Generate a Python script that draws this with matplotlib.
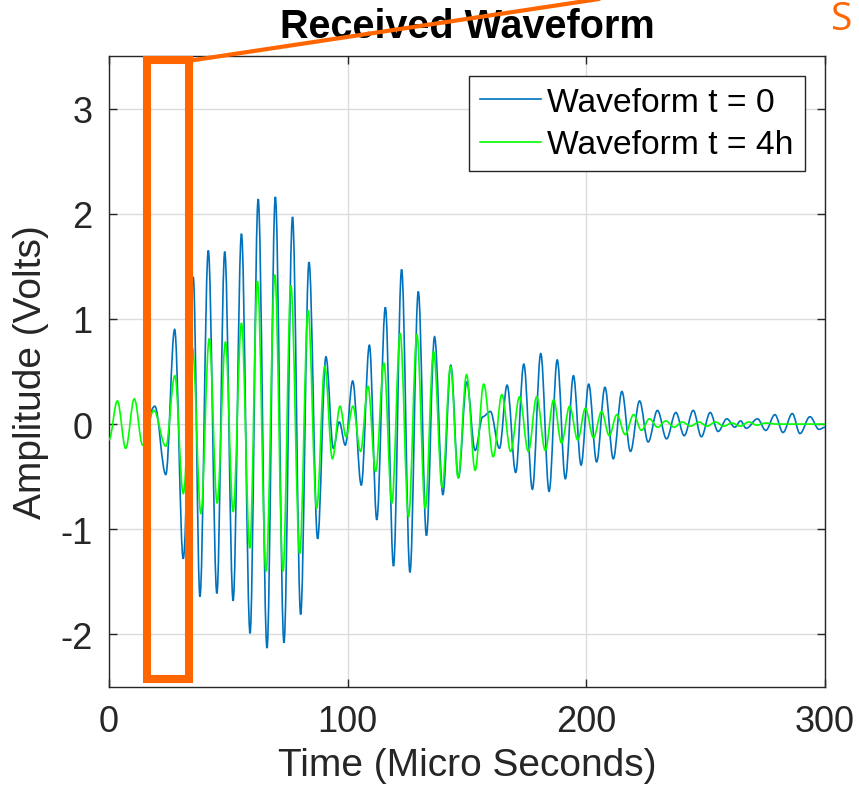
import matplotlib
matplotlib.use("Agg")
import matplotlib.pyplot as plt
from matplotlib.patches import Rectangle, ConnectionPatch, PathPatch
from matplotlib.path import Path
from matplotlib.lines import Line2D

plt.rcParams['font.family'] = ['Liberation Sans', 'DejaVu Sans']
plt.rcParams['axes.unicode_minus'] = False

# ---- data (extrema of each oscillation) ----
blue_t = [15, 19.2, 23.8, 27.5, 31.1, 35.3, 38.1, 41.6, 45.2, 48.5, 52.0, 55.5, 59.1, 62.5,
          66.2, 69.7, 73.3, 76.9, 80.3, 83.8, 87.4, 90.9, 94.0, 96.5, 99.0, 102.1, 105.7,
          109.1, 112.2, 115.8, 119.2, 122.6, 126.1, 129.6, 133.0, 136.4, 139.9, 143.2,
          146.4, 149.9, 153.4, 156.6, 159.8, 163.6, 166.8, 170.4, 173.8, 177.4, 180.9,
          184.4, 187.8, 191.2, 194.6, 197.8, 201.0, 204.3, 207.8, 211.3, 214.9, 218.5,
          222.3, 225.9, 229.8, 233.6, 237.5, 241.0, 244.8, 248.2, 251.9, 255.2, 258.9,
          262.2, 264.6, 267.0, 271.7, 275.2, 279.0, 282.4, 286.3, 289.5, 293.7, 297.5, 300]
blue_v = [0.0, 0.17, -0.48, 0.90, -1.28, 1.40, -1.64, 1.65, -1.61, 1.64, -1.68, 1.81, -1.99,
          2.14, -2.13, 2.16, -2.08, 1.97, -1.81, 1.54, -1.09, 0.64, -0.23, 0.02, -0.20, 0.41,
          -0.58, 0.75, -0.91, 1.11, -1.35, 1.47, -1.41, 1.26, -1.06, 0.83, -0.67, 0.56,
          -0.51, 0.40, -0.25, 0.07, 0.12, -0.23, 0.37, -0.46, 0.57, -0.62, 0.67, -0.64,
          0.61, -0.52, 0.46, -0.39, 0.38, -0.36, 0.35, -0.33, 0.31, -0.26, 0.22, -0.17,
          0.13, -0.14, 0.11, -0.11, 0.13, -0.12, 0.11, -0.07, 0.05, -0.03, 0.03, -0.04,
          0.05, -0.06, 0.09, -0.08, 0.10, -0.09, 0.07, -0.05, -0.03]

green_t = [0, 3.5, 7.0, 10.6, 14.1, 18.8, 23.8, 27.6, 31.1, 35.0, 38.5, 42.0, 45.3, 48.8,
           52.0, 55.5, 59.0, 62.2, 65.8, 69.5, 72.9, 76.2, 79.9, 83.4, 87.0, 90.4, 93.6,
           96.8, 99.3, 102.2, 105.4, 108.5, 111.7, 115.2, 118.5, 122.0, 125.5, 129.0,
           132.5, 136.0, 139.6, 143.1, 146.3, 149.8, 153.4, 157.0, 161.0, 164.6, 168.3,
           172.0, 175.7, 179.2, 182.8, 186.3, 189.6, 193.0, 196.4, 199.6, 203.0, 206.4,
           209.6, 212.8, 216.3, 219.8, 223.1, 226.4, 229.9, 233.3, 236.8, 240.2, 243.7,
           247.2, 250.6, 254.1, 257.6, 261.0, 264.5, 268.0, 271.5, 275.0, 280.0, 290.0, 300]
green_v = [-0.15, 0.22, -0.23, 0.24, -0.20, 0.13, -0.21, 0.46, -0.66, 0.72, -0.85, 0.81,
           -0.75, 0.78, -0.83, 0.96, -1.18, 1.36, -1.40, 1.42, -1.40, 1.32, -1.23, 1.08,
           -0.80, 0.55, -0.33, 0.17, -0.12, 0.17, -0.26, 0.36, -0.45, 0.58, -0.75, 0.86,
           -0.88, 0.85, -0.80, 0.69, -0.60, 0.55, -0.51, 0.47, -0.44, 0.38, -0.31, 0.28,
           -0.26, 0.26, -0.26, 0.26, -0.25, 0.23, -0.18, 0.17, -0.15, 0.15, -0.13, 0.12,
           -0.11, 0.09, -0.10, 0.09, -0.06, 0.05, -0.03, 0.03, -0.03, 0.02, -0.02, 0.02,
           -0.02, 0.02, -0.02, 0.01, -0.02, 0.02, -0.01, 0.01, 0.0, 0.0, 0.0]

series_labels = ["Waveform t = 0", "Waveform t = 4h"]
x_ticks = [0, 100, 200, 300]
y_ticks = [-2, -1, 0, 1, 2, 3]
highlight_t = [16.1, 33.7]      # highlighted time window
highlight_v = [-2.42, 3.46]

BLUE = '#0072BD'
GREEN = '#00FF00'
ORANGE = '#FF6600'
DARK = '#262626'
LW = 1.2


def extrema_path(ts, vs, k=0.36):
    """Smooth path through the read extrema (flat tangent at every extremum)."""
    verts = [(ts[0], vs[0])]
    codes = [Path.MOVETO]
    for i in range(1, len(ts)):
        dt = ts[i] - ts[i - 1]
        verts += [(ts[i - 1] + k * dt, vs[i - 1]), (ts[i] - k * dt, vs[i]), (ts[i], vs[i])]
        codes += [Path.CURVE4] * 3
    return Path(verts, codes)


fig = plt.figure(figsize=(8.59, 8.03), dpi=100)
ax = fig.add_axes([109 / 859, 1 - 688 / 803, (825 - 109) / 859, (688 - 57) / 803])

ax.add_patch(PathPatch(extrema_path(blue_t, blue_v), fill=False, edgecolor=BLUE,
                       lw=LW, zorder=3))
ax.add_patch(PathPatch(extrema_path(green_t, green_v), fill=False, edgecolor=GREEN,
                       lw=LW, zorder=4))

ax.set_xlim(0, 300)
ax.set_ylim(-2.5, 3.5)
ax.set_xticks(x_ticks)
ax.set_yticks(y_ticks)
ax.grid(True, color='#dcdcdc', lw=1.0, zorder=0)
ax.set_axisbelow(True)
ax.tick_params(direction='in', top=True, right=True, length=6, width=1,
               labelsize=26, colors=DARK, pad=12)
for s in ax.spines.values():
    s.set_color(DARK)
    s.set_linewidth(1.0)

ax.set_title("Received Waveform", fontsize=28.5, fontweight='bold', pad=14, color='black')
ax.set_xlabel("Time (Micro Seconds)", fontsize=28, color=DARK, labelpad=6)
ax.set_ylabel("Amplitude (Volts)", fontsize=28, color=DARK, labelpad=8)

handles = [Line2D([], [], color=BLUE, lw=LW), Line2D([], [], color=GREEN, lw=LW)]
leg = ax.legend(handles, series_labels, loc='upper right', fontsize=24.2, frameon=True,
                fancybox=False, edgecolor=DARK, framealpha=1, borderpad=0.33,
                labelspacing=0.33, handlelength=1.8, handletextpad=0.2, borderaxespad=0.6)
leg.get_frame().set_linewidth(1.0)
for t in leg.get_texts():
    t.set_color('black')

rect = Rectangle((highlight_t[0], highlight_v[0]), highlight_t[1] - highlight_t[0],
                 highlight_v[1] - highlight_v[0], fill=False, edgecolor=ORANGE,
                 linewidth=5.8, clip_on=False, zorder=10, joinstyle='miter')
ax.add_patch(rect)

con = ConnectionPatch(xyA=(highlight_t[1] + 1.5, highlight_v[1]), coordsA=ax.transData,
                      xyB=(599 / 859, 1.0), coordsB=fig.transFigure,
                      color=ORANGE, linewidth=3.0, zorder=11)
fig.add_artist(con)

fig.text(831 / 859, 1 - 30 / 803, "S", color=ORANGE, fontsize=28,
         family=['Open Sans', 'DejaVu Sans'], va='baseline', ha='left')

fig.savefig("out.png", dpi=100)
